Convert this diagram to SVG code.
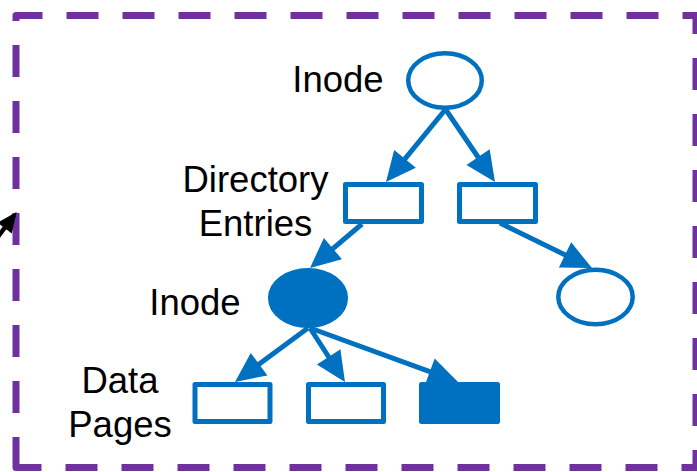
<svg xmlns="http://www.w3.org/2000/svg" width="697" height="472" viewBox="0 0 697 472">
  <style>
    .frame { fill: none; stroke: #7030A0; stroke-width: 7; stroke-dasharray: 32 24; stroke-dashoffset: 1.5; stroke-linejoin: round; }
    .box { fill: #FFFFFF; stroke: #0070C0; stroke-width: 5; stroke-linejoin: round; }
    .box.full { fill: #0070C0; }
    .node { fill: #FFFFFF; stroke: #0070C0; stroke-width: 4.5; }
    .node.full { fill: #0070C0; }
    .edge { fill: none; stroke: #0070C0; stroke-width: 5; marker-end: url(#head); }
    .lbl { font-family: "Liberation Sans", Arial, sans-serif; font-size: 36.5px; fill: #000000; text-anchor: middle; }
  </style>
  <defs>
    <marker id="head" markerUnits="userSpaceOnUse" markerWidth="30" markerHeight="28" refX="24" refY="14" orient="auto" overflow="visible">
      <path d="M0,0 L30,14 L0,28 Z" fill="#0070C0"/>
    </marker>
    <marker id="headBlack" markerUnits="userSpaceOnUse" markerWidth="20" markerHeight="18" refX="16" refY="9" orient="auto" overflow="visible">
      <path d="M0,0 L20,9 L0,18 Z" fill="#000000"/>
    </marker>
  </defs>

  <rect width="697" height="472" fill="#FFFFFF"/>

  <!-- dashed frame -->
  <path class="frame" d="M16,467.5 V15.5 H696 V467.5 Z"/>

  <!-- incoming pointer at the left edge -->
  <line x1="-12" y1="250" x2="14.2" y2="215.2" stroke="#000000" stroke-width="4.5" marker-end="url(#headBlack)"/>

  <!-- connectors -->
  <g id="connectors">
    <line class="edge" x1="445" y1="110" x2="389.8" y2="177.4"/>
    <line class="edge" x1="446" y1="110" x2="491.6" y2="177.0"/>
    <line class="edge" x1="362" y1="224" x2="314.6" y2="264.1"/>
    <line class="edge" x1="500" y1="223" x2="586.6" y2="265.4"/>
    <line class="edge" x1="308" y1="328" x2="239.8" y2="378.4"/>
    <line class="edge" x1="310" y1="328" x2="341.7" y2="377.0"/>
    <line class="edge" x1="310" y1="328" x2="452.4" y2="379.9"/>
  </g>

  <!-- nodes -->
  <g id="inode-root">
    <ellipse class="node" cx="445" cy="80.5" rx="36.8" ry="27.3"/>
  </g>
  <g id="dir-entry-left">
    <rect class="box" x="345.5" y="184.5" width="76" height="37"/>
  </g>
  <g id="dir-entry-right">
    <rect class="box" x="459.5" y="184.5" width="76" height="37"/>
  </g>
  <g id="inode-file">
    <ellipse class="node full" cx="308" cy="298" rx="37.8" ry="27.8"/>
  </g>
  <g id="inode-other">
    <ellipse class="node" cx="595.5" cy="297" rx="37.2" ry="27.2"/>
  </g>
  <g id="page-1">
    <rect class="box" x="195" y="384.5" width="75" height="37"/>
  </g>
  <g id="page-2">
    <rect class="box" x="308.5" y="384.5" width="75" height="37"/>
  </g>
  <g id="page-3">
    <rect class="box full" x="421.5" y="384.5" width="76" height="37"/>
  </g>

  <!-- labels -->
  <g id="labels">
    <text class="lbl" x="338" y="92">Inode</text>
    <text class="lbl" x="255.5" y="192">Directory</text>
    <text class="lbl" x="255.5" y="236">Entries</text>
    <text class="lbl" x="195" y="315">Inode</text>
    <text class="lbl" x="120" y="393">Data</text>
    <text class="lbl" x="120" y="437">Pages</text>
  </g>
</svg>
